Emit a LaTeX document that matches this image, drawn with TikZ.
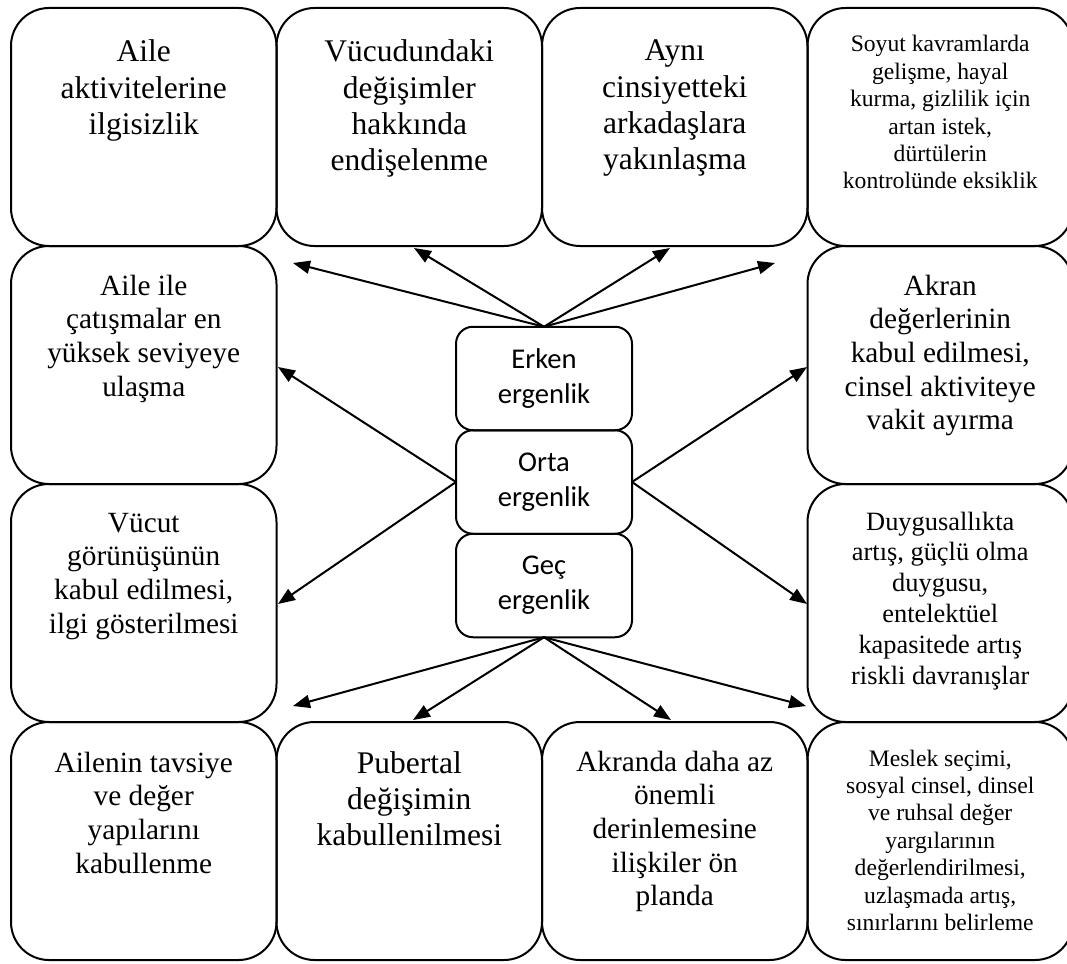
\documentclass[tikz,border=0pt]{standalone}
\usepackage{fontspec}
\setmainfont{Liberation Serif}
\newfontfamily\carlito{Carlito}
\usetikzlibrary{arrows.meta,positioning}
\begin{document}
\begin{tikzpicture}[x=1pt,y=-1pt,>={Triangle[length=17pt,width=13pt]}, line join=round, line cap=round,line width=2pt,
	kutu/.style={draw,rounded corners=38pt,inner sep=0pt,outer sep=0pt,anchor=north west},
	donem/.style={draw,rounded corners=17pt,inner sep=0pt,outer sep=0pt,minimum width=176pt,minimum height=103.5pt,align=center,font=\carlito\fontsize{28.6}{35}\selectfont},
	fA/.style={font=\fontsize{31.5}{36.3}\selectfont},
	fB/.style={font=\fontsize{29.3}{33.7}\selectfont},
	fC/.style={font=\fontsize{26.4}{30.8}\selectfont},
	fD/.style={font=\fontsize{23.6}{27.4}\selectfont}]
			\def\bw{265.5}
			\def\bh{238}
			\def\yazi#1#2{\parbox[t][\bh pt][t]{\bw pt}{\centering\rule{0pt}{#1pt}#2}}
			\useasboundingbox (0,0) rectangle (1067,963);
			\node[kutu,fA] (T1) at (11,8) {\yazi{54}{Aile\\aktivitelerine\\ilgisizlik}};
			\node[kutu,fA] (T2) at (276.5,8) {\yazi{54}{Vücudundaki\\değişimler\\hakkında\\endişelenme}};
			\node[kutu,fA] (T3) at (542,8) {\yazi{53}{Aynı\\cinsiyetteki\\arkadaşlara\\yakınlaşma}};
			\node[kutu,fD] (T4) at (807.5,8) {\yazi{44}{Soyut kavramlarda\\gelişme, hayal\\kurma, gizlilik için\\artan istek,\\dürtülerin\\kontrolünde eksiklik}};
			\node[kutu,fB] (L2) at (11,246) {\yazi{49}{Aile ile\\çatışmalar en\\yüksek seviyeye\\ulaşma}};
			\node[kutu,fB] (R2) at (807.5,246) {\yazi{49}{Akran\\değerlerinin\\kabul edilmesi,\\cinsel aktiviteye\\vakit ayırma}};
			\node[kutu,fB] (L3) at (11,484) {\yazi{48}{Vücut\\görünüşünün\\kabul edilmesi,\\ilgi gösterilmesi}};
			\node[kutu,fC] (R3) at (807.5,484) {\yazi{46}{Duygusallıkta\\artış, güçlü olma\\duygusu,\\entelektüel\\kapasitede artış\\riskli davranışlar}};
			\node[kutu,fB] (B1) at (11,722) {\yazi{50}{Ailenin tavsiye\\ve değer\\yapılarını\\kabullenme}};
			\node[kutu,fA] (B2) at (276.5,722) {\yazi{51}{Pubertal\\değişimin\\kabullenilmesi}};
			\node[kutu,fB] (B3) at (542,722) {\yazi{49}{Akranda daha az\\önemli\\derinlemesine\\ilişkiler ön\\planda}};
			\node[kutu,fD] (B4) at (807.5,722) {\yazi{44}{Meslek seçimi,\\sosyal cinsel, dinsel\\ve ruhsal değer\\yargılarının\\değerlendirilmesi,\\uzlaşmada artış,\\sınırlarını belirleme}};
			\node[donem] (E) at (544,378.5) {Erken\\ergenlik};
			\node[donem,below=0pt of E] (O) {Orta\\ergenlik};
			\node[donem,below=0pt of O] (G) {Geç\\ergenlik};
			\path (293,263) coordinate (a1)
			(414,248) coordinate (a2)
			(670,248) coordinate (a3)
			(775,263) coordinate (a4)
			(278,367) coordinate (o1)
			(278,604) coordinate (o2)
			(807,367) coordinate (o3)
			(807,604) coordinate (o4)
			(293,706) coordinate (g1)
			(413,720) coordinate (g2)
			(671,720) coordinate (g3)
			(806,706) coordinate (g4)
			;
			\draw[->] (E.north)--(a1);
			\draw[->] (E.north)--(a2);
			\draw[->] (E.north)--(a3);
			\draw[->] (E.north)--(a4);
			\draw[->] (O.west)--(o1);
			\draw[->] (O.west)--(o2);
			\draw[->] (O.east)--(o3);
			\draw[->] (O.east)--(o4);
			\draw[->] (G.south)--(g1);
			\draw[->] (G.south)--(g2);
			\draw[->] (G.south)--(g3);
			\draw[->] (G.south)--(g4);
		\end{tikzpicture}
\end{document}
